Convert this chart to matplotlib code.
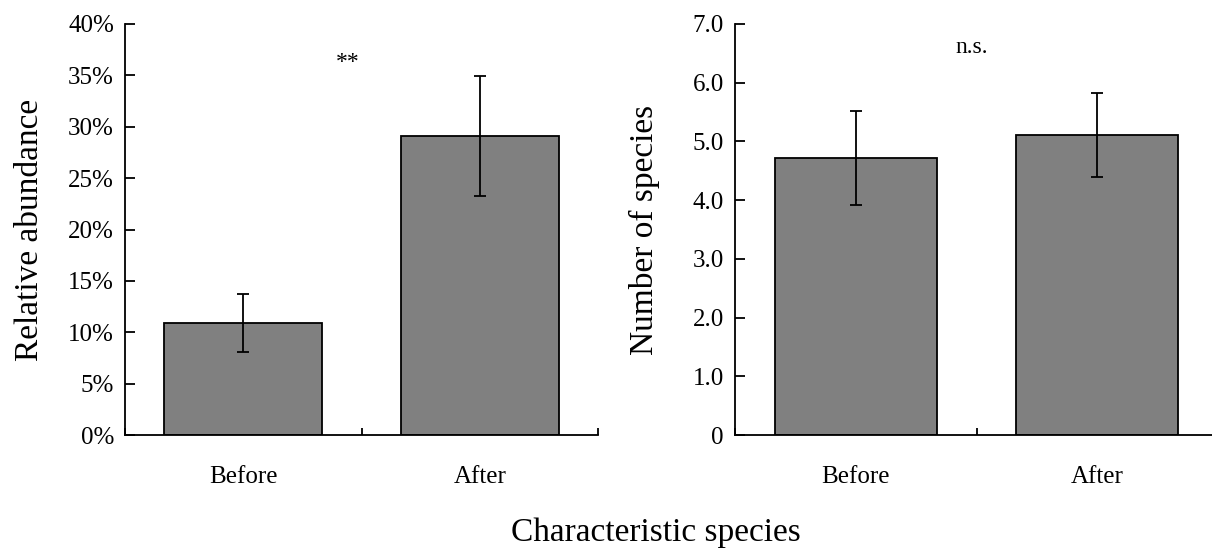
import numpy as np
import matplotlib
matplotlib.use("Agg")
from matplotlib import pyplot as plt
from matplotlib.ticker import FixedLocator

categories = ["Before", "After"]
abundance = [10.9, 29.1]
abundance_err = [2.85, 5.85]
species = [4.71, 5.11]
species_err = [0.80, 0.71]
abundance_ticks = [0, 5, 10, 15, 20, 25, 30, 35, 40]
species_ticks = [0, 1, 2, 3, 4, 5, 6, 7]

plt.rcParams['font.family'] = ['Liberation Serif', 'DejaVu Serif']

fig = plt.figure(figsize=(12.12, 5.49), dpi=100)
ax1 = fig.add_axes([125/1212, 114/549, 473/1212, 411/549])
ax2 = fig.add_axes([735/1212, 114/549, 483/1212, 411/549])


def style(ax, vals, errs, ticks, labels, ylabel, ylim):
    x = np.arange(len(vals))
    ax.bar(x, vals, width=0.67, color='#808080', edgecolor='black', linewidth=1.3, zorder=2)
    ax.errorbar(x, vals, yerr=errs, fmt='none', ecolor='black', elinewidth=1.3,
                capsize=4, capthick=1.3, zorder=3)
    ax.set_xlim(-0.5, 1.5)
    ax.set_ylim(*ylim)
    ax.spines['top'].set_visible(False)
    ax.spines['right'].set_visible(False)
    for s in ('left', 'bottom'):
        ax.spines[s].set_linewidth(1.3)
    ax.set_xticks([-0.5, 0.5, 1.5])
    ax.set_xticklabels([])
    ax.xaxis.set_minor_locator(FixedLocator(x))
    ax.set_xticklabels(categories, minor=True, fontsize=18)
    ax.tick_params(axis='x', which='major', direction='in', length=5, width=1.3)
    ax.tick_params(axis='x', which='minor', length=0, pad=22)
    ax.set_yticks(ticks)
    ax.set_yticklabels(labels, fontsize=18)
    ax.tick_params(axis='y', direction='in', length=7, width=1.3, pad=8)
    ax.set_ylabel(ylabel, fontsize=24)


style(ax1, abundance, abundance_err, abundance_ticks,
      [f"{t}%" for t in abundance_ticks], "Relative abundance", (0, 40))
ax1.yaxis.set_label_coords(-0.17, 0.5)
ax1.text(0.44, 36.3, "**", ha='center', va='center', fontsize=17)

style(ax2, species, species_err, species_ticks,
      ["0"] + [f"{t:.1f}" for t in species_ticks[1:]], "Number of species", (0, 7))
ax2.yaxis.set_label_coords(-0.155, 0.5)
ax2.text(0.48, 6.6, "n.s.", ha='center', va='center', fontsize=17)

fig.text(656/1212, 1 - 533/549, "Characteristic species", ha='center', va='center', fontsize=24)

fig.savefig("out.png", dpi=100)
